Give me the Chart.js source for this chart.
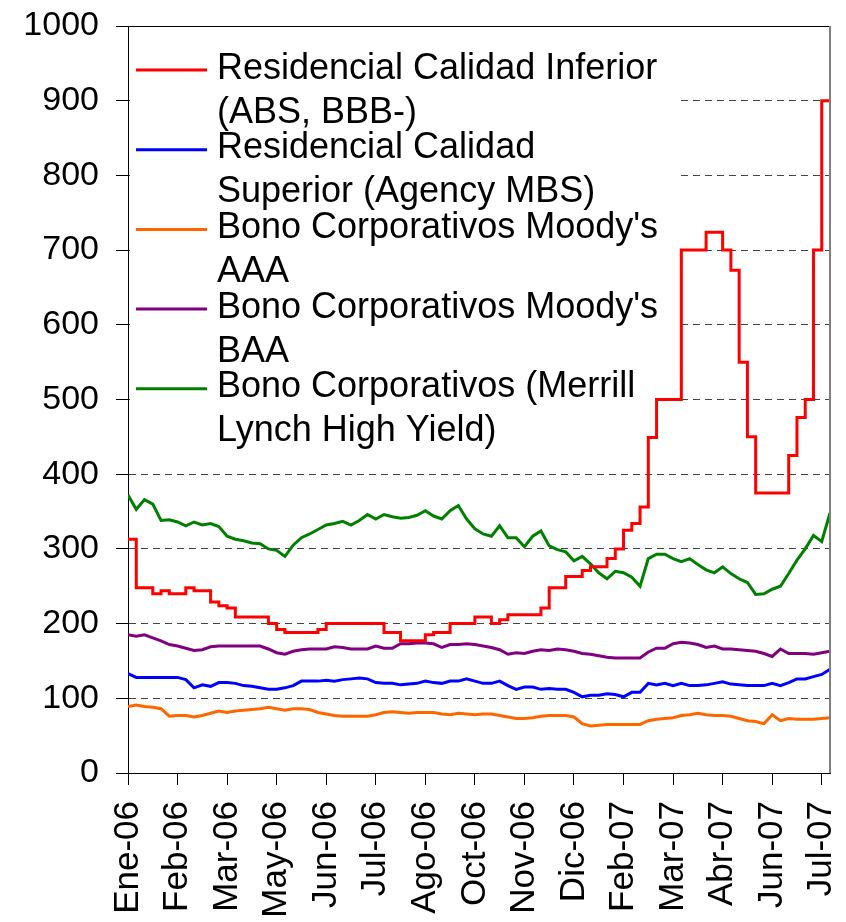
<!DOCTYPE html>
<html>
<head>
<meta charset="utf-8">
<script src="https://cdn.jsdelivr.net/npm/chart.js@4"></script>
<style>
    html, body { margin: 0; padding: 0; background: #fff; overflow: hidden; }
    #chart { display: block; }
</style>
</head>
<body>
<canvas id="chart" width="846" height="922"></canvas>
<script>
// Tick labels, one every 6 weekly points
const tickLabels = ['Ene-06', 'Feb-06', 'Mar-06', 'May-06', 'Jun-06', 'Jul-06', 'Ago-06', 'Oct-06',
    'Nov-06', 'Dic-06', 'Feb-07', 'Mar-07', 'Abr-07', 'Jun-07', 'Jul-07'];
const tickEvery = 6;
const lastPoint = 85;

// Legend text, two lines per series
const legendLines = [
    ['Residencial Calidad Inferior', '(ABS, BBB-)'],
    ['Residencial Calidad', 'Superior (Agency MBS)'],
    ["Bono Corporativos Moody's", 'AAA'],
    ["Bono Corporativos Moody's", 'BAA'],
    ['Bono Corporativos (Merrill', 'Lynch High Yield)']
];
const seriesColors = ['#ff0000', '#0000ff', '#ff6600', '#800080', '#008000'];

// Spreads (weekly points)
const absBBB = [313, 248, 248, 240, 244, 240, 240, 248, 244, 244,
    229, 224, 221, 209, 209, 209, 209, 200, 192, 188,
    188, 188, 188, 192, 200, 200, 200, 200, 200, 200,
    200, 188, 188, 177, 177, 177, 185, 188, 188, 200,
    200, 200, 209, 209, 200, 205, 212, 212, 212, 212,
    221, 248, 248, 263, 263, 271, 276, 276, 287, 300,
    325, 334, 356, 449, 500, 500, 500, 700, 700, 700,
    724, 724, 700, 673, 550, 450, 375, 375, 375, 375,
    425, 476, 500, 700, 900, 900];
const agencyMBS = [133, 128, 128, 128, 128, 128, 128, 125, 114, 118,
    116, 121, 121, 120, 117, 116, 114, 112, 112, 114,
    117, 123, 123, 123, 124, 123, 125, 126, 127, 126,
    121, 120, 120, 118, 119, 120, 123, 121, 120, 123,
    123, 126, 123, 120, 120, 123, 117, 112, 115, 115,
    112, 113, 112, 112, 108, 102, 104, 104, 106, 105,
    102, 108, 108, 120, 118, 120, 117, 120, 117, 117,
    118, 120, 122, 119, 118, 117, 117, 117, 120, 117,
    121, 126, 126, 129, 132, 139];
const moodysAAA = [89, 91, 89, 88, 86, 76, 77, 77, 75, 77,
    80, 83, 81, 83, 84, 85, 86, 88, 86, 84,
    86, 86, 85, 81, 79, 77, 76, 76, 76, 76,
    78, 81, 82, 81, 80, 81, 81, 81, 79, 78,
    80, 79, 78, 79, 79, 77, 75, 73, 73, 74,
    76, 77, 77, 77, 75, 66, 63, 64, 65, 65,
    65, 65, 65, 70, 72, 73, 74, 77, 78, 80,
    78, 77, 77, 76, 73, 70, 69, 66, 78, 70,
    73, 72, 72, 72, 73, 74];
const moodysBAA = [185, 183, 185, 181, 177, 172, 170, 167, 164, 165,
    169, 170, 170, 170, 170, 170, 170, 166, 161, 159,
    163, 165, 166, 166, 166, 169, 168, 166, 166, 166,
    170, 167, 167, 173, 173, 174, 174, 173, 168, 172,
    172, 173, 172, 170, 168, 165, 159, 161, 160, 163,
    165, 164, 166, 165, 163, 160, 159, 157, 155, 154,
    154, 154, 154, 162, 167, 167, 173, 175, 174, 172,
    168, 170, 166, 166, 165, 164, 163, 160, 156, 166,
    160, 160, 160, 159, 161, 163];
const highYield = [372, 353, 366, 360, 338, 339, 336, 331, 336, 332,
    334, 330, 317, 313, 311, 308, 307, 300, 298, 290,
    305, 315, 320, 326, 332, 334, 337, 332, 338, 346,
    340, 346, 343, 341, 342, 345, 351, 344, 340, 351,
    358, 340, 327, 320, 317, 331, 315, 315, 303, 317,
    324, 304, 299, 296, 284, 290, 280, 268, 260, 270,
    268, 262, 250, 287, 293, 293, 287, 283, 287, 279,
    272, 268, 276, 267, 260, 255, 239, 240, 246, 250,
    267, 285, 300, 318, 310, 348];

const seriesValues = [absBBB, agencyMBS, moodysAAA, moodysBAA, highYield];
const fontFamily = '"Liberation Sans", Arial, sans-serif';

function toPoints(values) {
    return values.map((v, i) => ({ x: i, y: v }));
}

// Legend box drawn inside the plot, over the grid, under the lines
const legendBox = {
    id: 'legendBox',
    beforeDatasetsDraw(chart) {
        const ctx = chart.ctx;
        const area = chart.chartArea;
        ctx.save();
        ctx.fillStyle = '#fff';
        ctx.fillRect(area.left + 2, area.top + 3, 680 - area.left - 2, 426);
        ctx.font = '36px ' + fontFamily;
        ctx.textBaseline = 'alphabetic';
        chart.data.datasets.forEach((ds, k) => {
            const y = area.top + 44 + 79.7 * k;
            ctx.strokeStyle = ds.borderColor;
            ctx.lineWidth = 3;
            ctx.beginPath();
            ctx.moveTo(area.left + 8, y);
            ctx.lineTo(area.left + 79, y);
            ctx.stroke();
            ctx.fillStyle = '#000';
            legendLines[k].forEach((t, j) => {
                ctx.fillText(t, area.left + 89, y + 8.6 + 44 * j);
            });
        });
        ctx.restore();
    },
    afterDraw(chart) {
        const ctx = chart.ctx;
        const area = chart.chartArea;
        ctx.save();
        ctx.strokeStyle = '#000';
        ctx.lineWidth = 1;
        ctx.beginPath();
        ctx.moveTo(area.left, area.top + 0.5);
        ctx.lineTo(area.right, area.top + 0.5);
        ctx.stroke();
        ctx.strokeStyle = '#808080';
        ctx.lineWidth = 2;
        ctx.beginPath();
        ctx.moveTo(area.right, area.top);
        ctx.lineTo(area.right, area.bottom);
        ctx.stroke();
        ctx.restore();
    }
};

const chart = new Chart(document.getElementById('chart').getContext('2d'), {
    type: 'line',
    data: {
        datasets: seriesValues.map((values, k) => ({
            label: legendLines[k].join(' '),
            data: toPoints(values),
            borderColor: seriesColors[k],
            backgroundColor: seriesColors[k],
            borderWidth: 3,
            pointRadius: 0,
            tension: 0,
            stepped: k === 0
        }))
    },
    options: {
        responsive: false,
        animation: false,
        layout: {
            padding: { top: 26, right: 16, left: 0, bottom: 0 }
        },
        plugins: {
            legend: { display: false },
            tooltip: { enabled: false }
        },
        scales: {
            x: {
                type: 'linear',
                min: 0,
                max: lastPoint,
                afterBuildTicks: function(scale) {
                    scale.ticks = tickLabels.map((_, k) => ({ value: k * tickEvery }));
                },
                afterFit: function(scale) {
                    scale.height = 149;
                    scale.paddingLeft = 0;
                    scale.paddingRight = 0;
                },
                ticks: {
                    autoSkip: false,
                    minRotation: 90,
                    maxRotation: 90,
                    padding: 16,
                    color: '#000',
                    font: { family: fontFamily, size: 35 },
                    callback: function(value, index) {
                        return tickLabels[index];
                    }
                },
                grid: {
                    drawOnChartArea: false,
                    tickLength: 12,
                    color: '#000',
                    tickColor: '#000'
                },
                border: { color: '#000', width: 1 }
            },
            y: {
                min: 0,
                max: 1000,
                afterFit: function(scale) {
                    scale.width = 128;
                    scale.paddingTop = 0;
                    scale.paddingBottom = 0;
                },
                ticks: {
                    stepSize: 100,
                    padding: 17,
                    color: '#000',
                    font: { family: fontFamily, size: 34 },
                    callback: function(value) {
                        return String(value);
                    }
                },
                grid: {
                    tickLength: 12,
                    tickColor: '#000',
                    color: function(context) {
                        const v = context.tick ? context.tick.value : 0;
                        return (v === 0 || v === 1000) ? 'rgba(0,0,0,0)' : '#444';
                    }
                },
                border: { color: '#000', width: 1, dash: [7, 5] }
            }
        }
    },
    plugins: [legendBox]
});
</script>
</body>
</html>
